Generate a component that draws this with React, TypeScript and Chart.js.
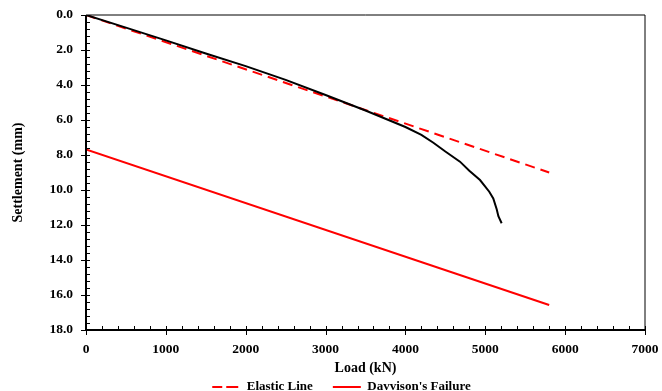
import React, { useEffect, useRef } from "react";
import { Chart, registerables } from "chart.js";

Chart.register(...registerables);

const measuredLoad = [0, 500, 1000, 1500, 2000, 2500, 3000, 3500, 4000, 4200, 4350, 4500, 4683, 4800, 4934, 5050, 5100, 5143, 5164, 5205];
const measuredSettlement = [0, 0.72, 1.45, 2.2, 2.92, 3.71, 4.57, 5.46, 6.4, 6.85, 7.3, 7.8, 8.38, 8.9, 9.43, 10.1, 10.48, 11.1, 11.5, 11.9];

const elasticLoad = [0, 5800];
const elasticSettlement = [0, 9.0];

const davissonLoad = [0, 5800];
const davissonSettlement = [7.68, 16.57];

const xTicks = [0, 1000, 2000, 3000, 4000, 5000, 6000, 7000];
const yTicks = [0, 2, 4, 6, 8, 10, 12, 14, 16, 18];

const FONT = "'Liberation Serif', 'Times New Roman', serif";

const toPts = (xs: number[], ys: number[]) => xs.map((x, i) => ({ x, y: ys[i] }));

const frameTicks = {
  id: "frameTicks",
  afterLayout(chart: any) {
    const lg = chart.legend;
    if (lg) {
      const h = lg.height;
      lg.top = 360.5;
      lg.bottom = lg.top + h;
      lg.left += 19;
      lg.right += 19;
    }
  },
  afterDatasetsDraw(chart: any) {
    const { ctx, chartArea: a, scales } = chart;
    const xs = scales.x;
    const ys = scales.y;
    ctx.save();
    ctx.strokeStyle = "#000";
    ctx.lineWidth = 1;
    ctx.beginPath();
    ctx.moveTo(a.left, a.top);
    ctx.lineTo(a.right, a.top);
    ctx.lineTo(a.right, a.bottom);
    ctx.stroke();
    ctx.lineWidth = 2;
    ctx.beginPath();
    ctx.moveTo(a.left, a.top);
    ctx.lineTo(a.left, a.bottom);
    ctx.lineTo(a.right, a.bottom);
    ctx.stroke();
    ctx.lineWidth = 1;
    ctx.beginPath();
    for (let v = 0; v <= 7000; v += 200) {
      const px = Math.round(xs.getPixelForValue(v)) + 0.5;
      const major = v % 1000 === 0;
      ctx.moveTo(px, a.bottom - 4);
      ctx.lineTo(px, major ? a.bottom + 5 : a.bottom);
    }
    for (let k = 0; k <= 45; k++) {
      const v = k * 0.4;
      const py = Math.round(ys.getPixelForValue(v)) + 0.5;
      const major = k % 5 === 0;
      ctx.moveTo(a.left + 4, py);
      ctx.lineTo(major ? a.left - 5 : a.left, py);
    }
    ctx.stroke();
    ctx.restore();
  },
};

export default function App() {
  const ref = useRef<HTMLCanvasElement>(null);
  useEffect(() => {
    if (!ref.current) return;
    const chart = new Chart(ref.current, {
      type: "line",
      data: {
        datasets: [
          {
            label: "Measured",
            data: toPts(measuredLoad, measuredSettlement),
            borderColor: "#000000",
            backgroundColor: "rgba(0,0,0,0)",
            borderWidth: 2,
            pointRadius: 0,
            tension: 0,
            fill: false,
          },
          {
            label: "Elastic Line",
            data: toPts(elasticLoad, elasticSettlement),
            borderColor: "#ff0000",
            backgroundColor: "rgba(0,0,0,0)",
            borderWidth: 2,
            borderDash: [10, 6],
            pointRadius: 0,
            fill: false,
          },
          {
            label: "Davvison's Failure",
            data: toPts(davissonLoad, davissonSettlement),
            borderColor: "#ff0000",
            backgroundColor: "rgba(0,0,0,0)",
            borderWidth: 2,
            pointRadius: 0,
            fill: false,
          },
        ],
      },
      options: {
        animation: false,
        responsive: false,
        maintainAspectRatio: false,
        layout: { padding: { left: 0, top: 15, right: 17, bottom: -28.4 } },
        scales: {
          x: {
            type: "linear",
            min: 0,
            max: 7000,
            afterFit: (s: any) => {
              s.height = 46.4;
              s.paddingLeft = 0;
              s.paddingRight = 0;
            },
            afterBuildTicks: (s: any) => {
              s.ticks = xTicks.map((v) => ({ value: v }));
            },
            grid: { display: false, drawTicks: false },
            border: { display: false },
            ticks: {
              padding: 11,
              color: "#000",
              font: { family: FONT, size: 13.5, weight: "bold" },
              callback: (v: any) => String(v),
              maxRotation: 0,
            },
            title: {
              display: true,
              text: "Load (kN)",
              color: "#000",
              font: { family: FONT, size: 14, weight: "bold" },
              padding: { top: 0, bottom: 0 },
            },
          },
          y: {
            type: "linear",
            min: 0,
            max: 18,
            reverse: true,
            afterFit: (s: any) => {
              s.width = 86;
              s.paddingTop = 0;
              s.paddingBottom = 0;
            },
            afterBuildTicks: (s: any) => {
              s.ticks = yTicks.map((v) => ({ value: v }));
            },
            grid: { display: false, drawTicks: false },
            border: { display: false },
            ticks: {
              padding: 13,
              color: "#000",
              font: { family: FONT, size: 13.5, weight: "bold" },
              callback: (v: any) => Number(v).toFixed(1),
            },
            title: {
              display: true,
              text: "Settlement (mm)",
              color: "#000",
              font: { family: FONT, size: 14, weight: "bold" },
              padding: { top: 10, bottom: 0 },
            },
          },
        },
        plugins: {
          legend: {
            display: true,
            position: "bottom",
            labels: {
              color: "#000",
              font: { family: FONT, size: 13, weight: "bold" },
              boxWidth: 28,
              boxHeight: 0,
              padding: 20,
              filter: (item: any) => item.datasetIndex !== 0,
            },
          },
          tooltip: { enabled: false },
        },
      },
      plugins: [frameTicks],
    } as any);
    return () => chart.destroy();
  }, []);
  return (
    <div style={{ position: "absolute", left: 0, top: 0, width: 662, height: 391 }}>
      <canvas ref={ref} width={662} height={391} style={{ width: 662, height: 391 }} />
    </div>
  );
}
